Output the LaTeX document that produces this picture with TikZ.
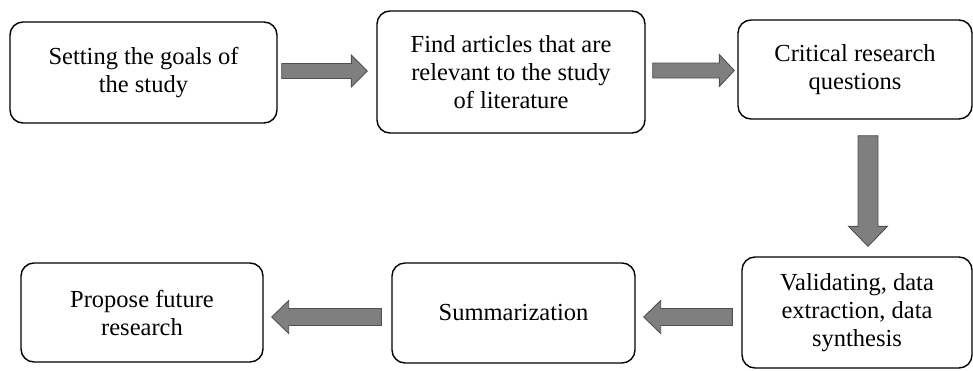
\documentclass[tikz,border=0pt]{standalone}
\usepackage{fontspec}
\setmainfont{Liberation Serif}
\usetikzlibrary{calc}
\definecolor{arrfill}{HTML}{7F7F7F}
\definecolor{arrdraw}{HTML}{505050}
\tikzset{
  stepbox/.style={draw=black, line width=1.4pt, rounded corners=13pt, align=center,
    inner sep=0pt, font=\fontsize{24.5}{28}\selectfont},
  fatstyle/.style={fill=arrfill, draw=arrdraw, line width=0.9pt, line join=miter}
}
% fat block arrow from #1 (tail) to #2 (tip); #3 shaft half width, #4 head half width, #5 head length
\newcommand\fatarrow[5]{%
  \coordinate (fac) at ($(#2)!#5!(#1)$);
  \filldraw[fatstyle] ($(#1)!#3!90:(#2)$) -- ($(fac)!#3!-90:(#1)$) -- ($(fac)!#4!-90:(#1)$)
    -- (#2) -- ($(fac)!#4!90:(#1)$) -- ($(fac)!#3!90:(#1)$) -- ($(#1)!#3!-90:(#2)$) -- cycle;
}
\begin{document}
\begin{tikzpicture}[x=1pt, y=-1pt]
\useasboundingbox (0,0) rectangle (973,370);
\node[stepbox, minimum width=267pt, minimum height=101pt] (b1) at (143.5,72.5) {Setting the goals of\\the study};
\node[stepbox, minimum width=268pt, minimum height=122pt] (b2) at (511,72) {Find articles that are\\relevant to the study\\of literature};
\node[stepbox, minimum width=234pt, minimum height=99pt] (b3) at (855,69.5) {Critical research\\questions};
\node[stepbox, minimum width=230pt, minimum height=111pt] (b4) at (857,312.5) {Validating, data\\extraction, data\\synthesis};
\node[stepbox, minimum width=243pt, minimum height=100pt] (b5) at (513.5,313) {Summarization};
\node[stepbox, minimum width=242pt, minimum height=99pt] (b6) at (142,312.5) {Propose future\\research};

\coordinate (a1s) at ($(b1.east)+(4,-1.5)$);
\coordinate (a1e) at ($(a1s -| b2.west)+(-9,0)$);
\coordinate (a2s) at ($(b2.east)+(7,-1.5)$);
\coordinate (a2e) at ($(a2s -| b3.west)+(-3,0)$);
\coordinate (a3s) at ($(b3.south)+(13,16)$);
\coordinate (a3e) at ($(a3s |- b4.north)+(0,-10)$);
\coordinate (a4s) at ($(b4.west)+(-9,4.5)$);
\coordinate (a4e) at ($(a4s -| b5.east)+(8,0)$);
\coordinate (a5s) at ($(b5.west)+(-10,4)$);
\coordinate (a5e) at ($(a5s -| b6.east)+(8,0)$);

\fatarrow{a1s}{a1e}{7.5pt}{16pt}{16pt}
\fatarrow{a2s}{a2e}{7.5pt}{16pt}{15pt}
\fatarrow{a3s}{a3e}{10pt}{19.5pt}{20pt}
\fatarrow{a4s}{a4e}{8.5pt}{16.5pt}{17pt}
\fatarrow{a5s}{a5e}{8.5pt}{16.5pt}{17pt}
\end{tikzpicture}
\end{document}
